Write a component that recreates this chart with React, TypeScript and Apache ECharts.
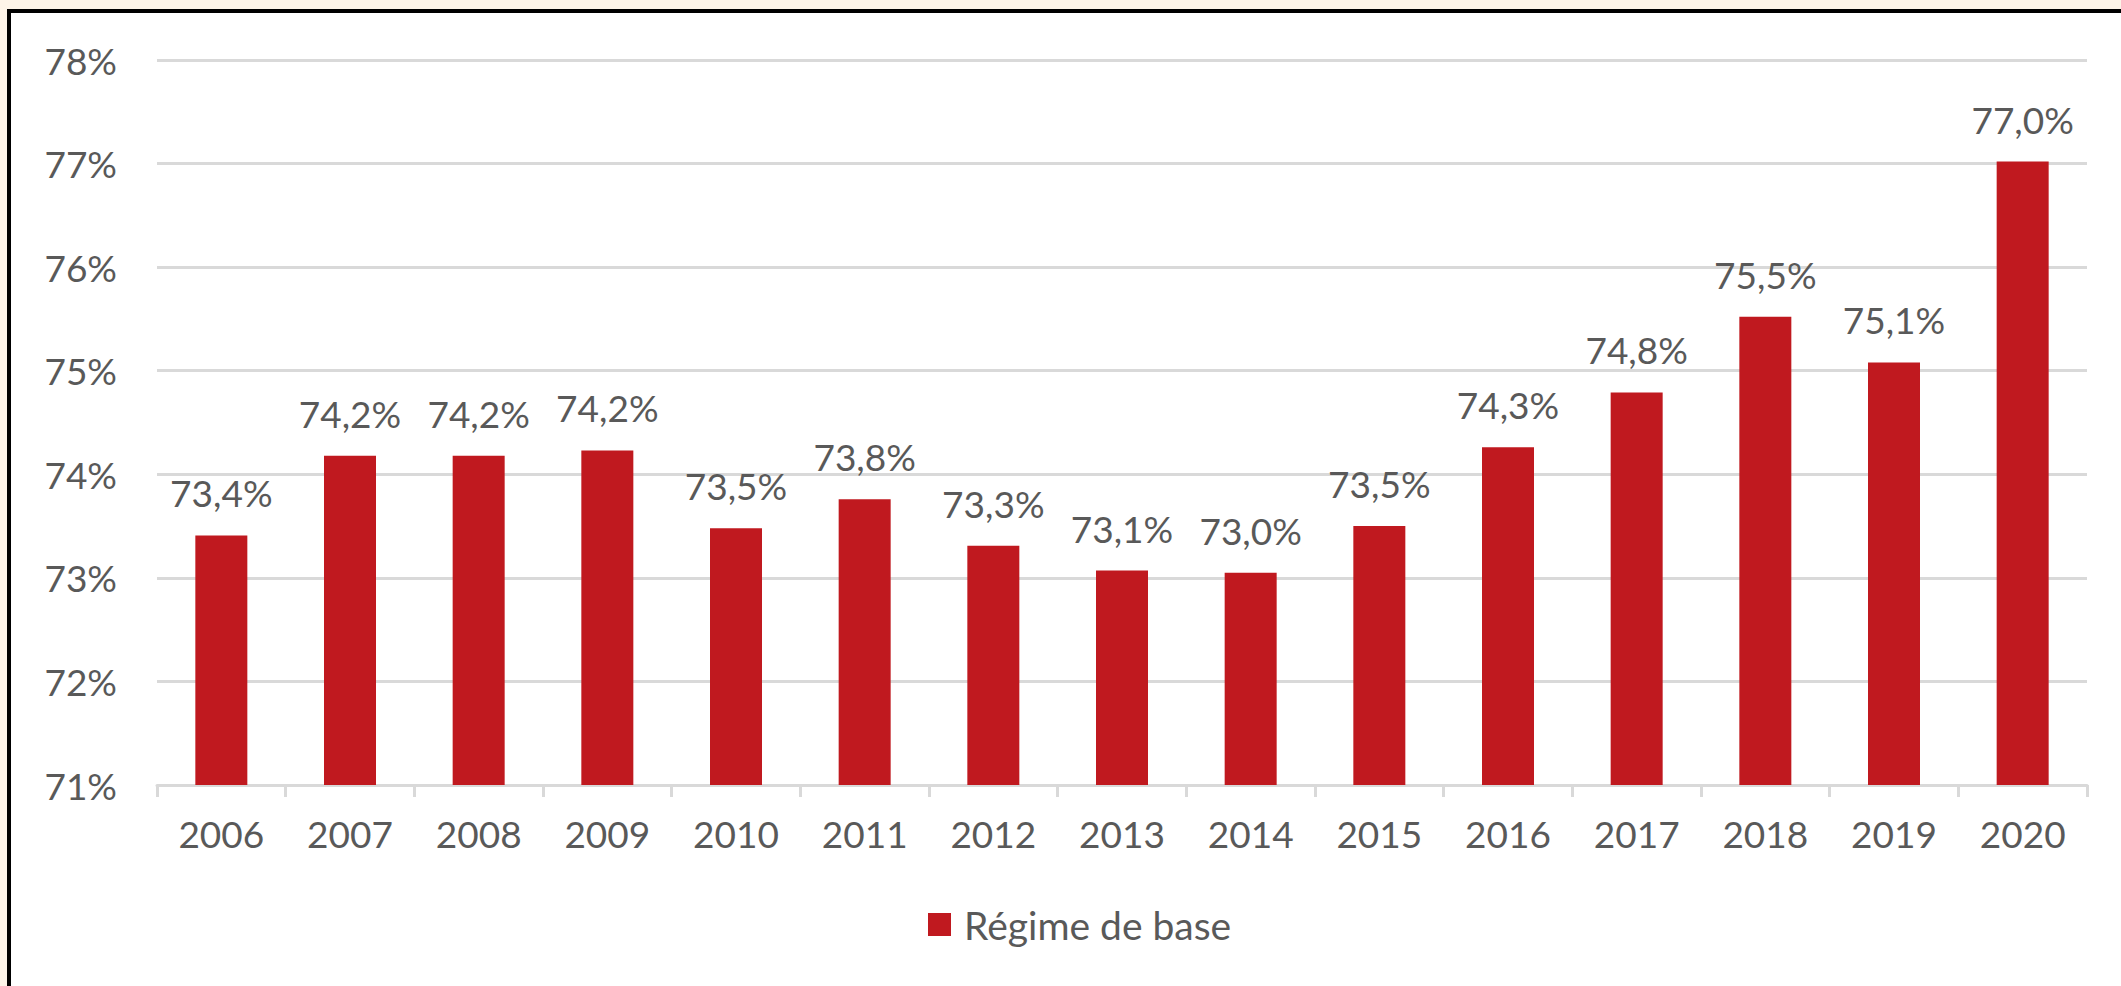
import React, { useEffect, useRef } from "react";
import * as echarts from "echarts";

const categories = ["2006", "2007", "2008", "2009", "2010", "2011", "2012", "2013", "2014", "2015", "2016", "2017", "2018", "2019", "2020"];
const regimeDeBase = [73.41, 74.18, 74.18, 74.23, 73.48, 73.76, 73.31, 73.07, 73.05, 73.5, 74.26, 74.79, 75.52, 75.08, 77.02];
const seriesName = "Régime de base";
const yMin = 71;
const yMax = 78;

const FONT = "Lato";
const TEXT = "#595959";
const GRID = "#d9d9d9";
const BAR = "#c0191f";

export default function App() {
  const ref = useRef<HTMLDivElement>(null);
  useEffect(() => {
    if (!ref.current) return;
    const chart = echarts.init(ref.current, undefined, { renderer: "svg" });
    chart.setOption({
      animation: false,
      textStyle: { fontFamily: FONT },
      grid: { left: 157, right: 34, top: 60, bottom: 201, containLabel: false },
      legend: {
        data: [seriesName],
        left: 923,
        top: 900,
        icon: "rect",
        itemWidth: 23,
        itemHeight: 23,
        itemGap: 14,
        textStyle: { color: TEXT, fontSize: 39, fontFamily: FONT, padding: [0, 0, 0, 8] },
      },
      xAxis: {
        type: "category",
        data: categories,
        axisLine: { show: true, lineStyle: { color: GRID, width: 3 } },
        axisTick: { show: true, length: 12, lineStyle: { color: GRID, width: 3 } },
        axisLabel: { color: TEXT, fontSize: 37, fontFamily: FONT, margin: 30 },
      },
      yAxis: {
        type: "value",
        min: yMin,
        max: yMax,
        interval: 1,
        axisLine: { show: false },
        axisTick: { show: false },
        splitLine: { lineStyle: { color: GRID, width: 3 } },
        axisLabel: { color: TEXT, fontSize: 37, fontFamily: FONT, margin: 40, formatter: (v: number) => `${v}%` },
      },
      series: [
        {
          name: seriesName,
          type: "bar",
          data: regimeDeBase,
          barWidth: 52,
          itemStyle: { color: BAR },
          label: {
            show: true,
            position: "top",
            distance: 24,
            color: TEXT,
            fontSize: 37,
            fontFamily: FONT,
            formatter: (p: any) => `${p.value.toFixed(1).replace(".", ",")}%`,
          },
        },
      ],
    });
    return () => chart.dispose();
  }, []);

  return (
    <div style={{ position: "fixed", left: 0, top: 0, width: 2121, height: 986, background: "#fdf4e8" }}>
      <div
        style={{
          position: "absolute",
          left: 7,
          top: 9,
          right: 0,
          bottom: 0,
          background: "#ffffff",
          borderTop: "4px solid #000",
          borderLeft: "4px solid #000",
        }}
      />
      <div ref={ref} style={{ position: "absolute", left: 0, top: 0, width: 2121, height: 986 }} />
    </div>
  );
}
